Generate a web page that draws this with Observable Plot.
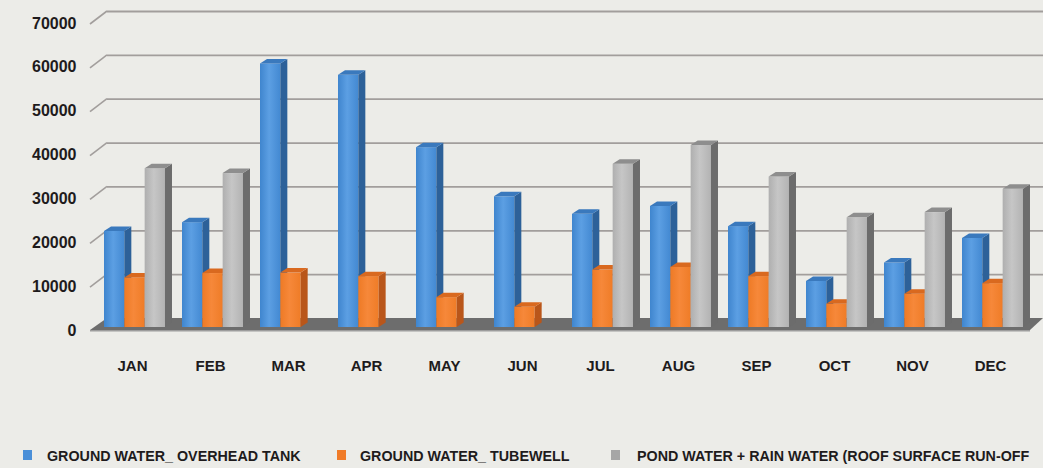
<!DOCTYPE html>
<html>
<head>
<meta charset="utf-8">
<script src="https://cdn.jsdelivr.net/npm/d3@7"></script>
<script src="https://cdn.jsdelivr.net/npm/@observablehq/plot@0.6"></script>
<style>
  html, body { margin: 0; padding: 0; background: #ecece8; }
  body { width: 1043px; height: 468px; overflow: hidden; font-family: "Liberation Sans", Arial, sans-serif; color: #1e1b1c; }
  #chart svg { display: block; background: transparent; }
  #legend { position: relative; width: 1043px; height: 28px; overflow: hidden; }
  .sw { position: absolute; top: 10px; width: 9px; height: 10px; }
  .lt { position: absolute; top: 9px; font-size: 14.3px; line-height: 14.3px; font-weight: bold; white-space: nowrap; }
</style>
</head>
<body>
<div id="chart"></div>
<div id="legend"></div>
<script>
// ---- data ----
const months = ["JAN", "FEB", "MAR", "APR", "MAY", "JUN", "JUL", "AUG", "SEP", "OCT", "NOV", "DEC"];
const overheadTank = [21900, 23900, 60100, 57500, 41000, 29800, 25800, 27600, 23000, 10500, 14700, 20300];
const tubewell = [11300, 12300, 12400, 11600, 6800, 4600, 13100, 13700, 11600, 5300, 7600, 10000];
const pondRain = [36200, 35100, null, null, null, null, 37200, 41500, 34300, 25000, 26200, 31500];
const seriesNames = ["GROUND WATER_ OVERHEAD TANK", "GROUND WATER_ TUBEWELL", "POND WATER + RAIN WATER (ROOF SURFACE RUN-OFF"];
const yTicks = [0, 10000, 20000, 30000, 40000, 50000, 60000, 70000];

// ---- styles ----
const faceColors = [
  { stops: ["#3f85ce", "#5c9fe3", "#4389d2"], side: "#2d6199", top: "#3a79bd", legend: "#4a8fd8" },
  { stops: ["#ee7a25", "#f6883a", "#ef7c27"], side: "#b9561a", top: "#d9691f", legend: "#f07b28" },
  { stops: ["#afafaf", "#c6c6c6", "#b3b3b3"], side: "#6c6c6c", top: "#8e8e8e", legend: "#a6a6a6" }
];
const DX = 7, DY = 4.5;         // bar depth

const seriesValues = [overheadTank, tubewell, pondRain];
const rows = [];
seriesValues.forEach((vals, s) => months.forEach((m, i) => {
  if (vals[i] != null) rows.push({ month: m, series: s, value: vals[i] });
}));

const step = 78, inner = 9, barW = 20.33;

function box3d(s) {
  return function (index, scales, values, dimensions, context, next) {
    const g = next(index, scales, values, dimensions, context);
    const sel = d3.select(g);
    const c = faceColors[s];
    const defs = sel.insert("defs", ":first-child");
    const grad = defs.append("linearGradient").attr("id", "front" + s)
      .attr("x1", 0).attr("x2", 1).attr("y1", 0).attr("y2", 0);
    grad.append("stop").attr("offset", 0).attr("stop-color", c.stops[0]);
    grad.append("stop").attr("offset", 0.45).attr("stop-color", c.stops[1]);
    grad.append("stop").attr("offset", 1).attr("stop-color", c.stops[2]);
    sel.selectAll("rect").each(function () {
      const r = d3.select(this);
      const x = +r.attr("x"), y = +r.attr("y"), w = +r.attr("width"), h = +r.attr("height");
      r.attr("fill", `url(#front${s})`);
      sel.append("polygon")
        .attr("points", [[x + w, y], [x + w + DX, y - DY], [x + w + DX, y + h - DY], [x + w, y + h]].join(" "))
        .attr("fill", c.side);
      sel.append("polygon")
        .attr("points", [[x, y], [x + DX, y - DY], [x + w + DX, y - DY], [x + w, y]].join(" "))
        .attr("fill", c.top);
    });
    return g;
  };
}

// floor + diagonal ticks drawn from the y scale and frame dimensions
function wall(index, scales, values, dimensions) {
  const y = scales.y;
  const g = d3.create("svg:g");
  const y0 = y(0);
  const left = dimensions.marginLeft, right = dimensions.width - dimensions.marginRight;
  g.append("polygon")
    .attr("points", [[left - 5, y0 + 3], [left + 12, y0 - 9], [right + 12, y0 - 9], [right - 1, y0 + 3]].join(" "))
    .attr("fill", "#6d6d6d");
  g.append("polygon")
    .attr("points", [[left - 5, y0 + 3], [right - 1, y0 + 3], [right - 1, y0 + 4.5], [left - 5, y0 + 4.5]].join(" "))
    .attr("fill", "#9c9c9c");
  yTicks.filter(v => v > 0).forEach(v => {
    g.append("line")
      .attr("x1", left - 5).attr("y1", y(v) + 4)
      .attr("x2", left + 12).attr("y2", y(v) - 9)
      .attr("stroke", "#a29e9c").attr("stroke-width", 1.6);
  });
  return g.node();
}

const marks = [
  Plot.ruleY(yTicks.filter(v => v > 0), { dx: 12, dy: -9, stroke: "#a29e9c", strokeWidth: 1.8 }),
  wall
];
[0, 1, 2].forEach(s => {
  marks.push(Plot.barY(rows.filter(d => d.series === s), {
    x: "month", y: "value", fill: faceColors[s].legend,
    insetLeft: inner + barW * s,
    insetRight: step - (inner + barW * (s + 1)),
    render: box3d(s)
  }));
});
marks.push(Plot.axisY(yTicks, { tickSize: 0, tickPadding: 19, fontSize: 16, fontWeight: "bold", dy: 3, label: null, fill: "#1e1b1c", tickFormat: d => String(d) }));
marks.push(Plot.axisX({ tickSize: 0, tickPadding: 33, fontSize: 15, fontWeight: "bold", label: null, fill: "#1e1b1c", dx: -2 }));

const chart = Plot.plot({
  width: 1043,
  height: 440,
  marginLeft: 95,
  marginRight: 12,
  marginTop: 20,
  marginBottom: 113,
  style: { background: "transparent", fontFamily: "'Liberation Sans', Arial, sans-serif", color: "#1e1b1c" },
  x: { type: "band", domain: months, padding: 0, axis: null },
  y: { domain: [0, 70000], axis: null },
  marks
});
document.getElementById("chart").appendChild(chart);

// legend
const legend = d3.select("#legend");
const swX = [23, 337, 611], txX = [47, 360, 637];
seriesNames.forEach((name, s) => {
  legend.append("div").attr("class", "sw").style("left", swX[s] + "px").style("background", faceColors[s].legend);
  legend.append("div").attr("class", "lt").style("left", txX[s] + "px").text(name);
});
</script>
</body>
</html>
